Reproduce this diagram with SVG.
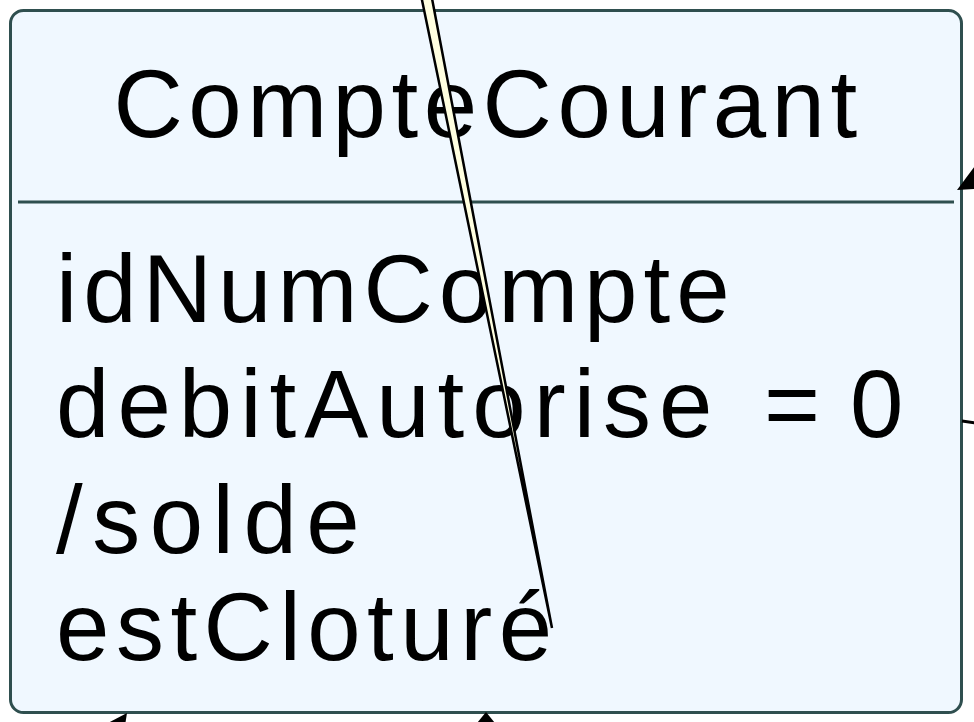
<svg xmlns="http://www.w3.org/2000/svg" width="974" height="722" viewBox="0 0 974 722">
<style>
.box{fill:#F0F8FF;stroke:#2F4F4F;stroke-width:3}
.div{stroke:#2F4F4F;stroke-width:3}
.t{font-family:"Liberation Sans",Arial,sans-serif;font-size:96px;letter-spacing:6px;fill:#000}
.ah{fill:#000;stroke:none}
</style>
<g id="CompteCourant">
<rect class="box" x="10.5" y="10.5" width="951" height="702" rx="13" ry="13"/>
<line class="div" x1="18" y1="202" x2="954" y2="202"/>
<text class="t" x="488" y="137" text-anchor="middle" style="letter-spacing:5.5px">CompteCourant</text>
<text class="t" x="56" y="322">idNumCompte</text>
<text class="t" x="56" y="437" style="letter-spacing:8px">debitAutorise<tspan x="764">=</tspan><tspan x="850">0</tspan></text>
<text class="t" x="56" y="553" style="letter-spacing:9.5px">/solde</text>
<text class="t" x="56" y="660" style="letter-spacing:6.5px">estCloturé</text>
</g>
<g id="connectors">
<polygon points="419.5,-12 430,-12 552,628" fill="#FFFFE0" stroke="#000" stroke-width="2.5" stroke-linejoin="miter"/>
<polygon class="ah" points="957,190 978,162 990,188"/>
<line x1="962" y1="421" x2="976" y2="423" stroke="#000" stroke-width="3"/>
<polygon class="ah" points="127,713 106,724 124,732"/>
<polygon class="ah" points="486,712 473,728 499,728"/>
</g>
</svg>
